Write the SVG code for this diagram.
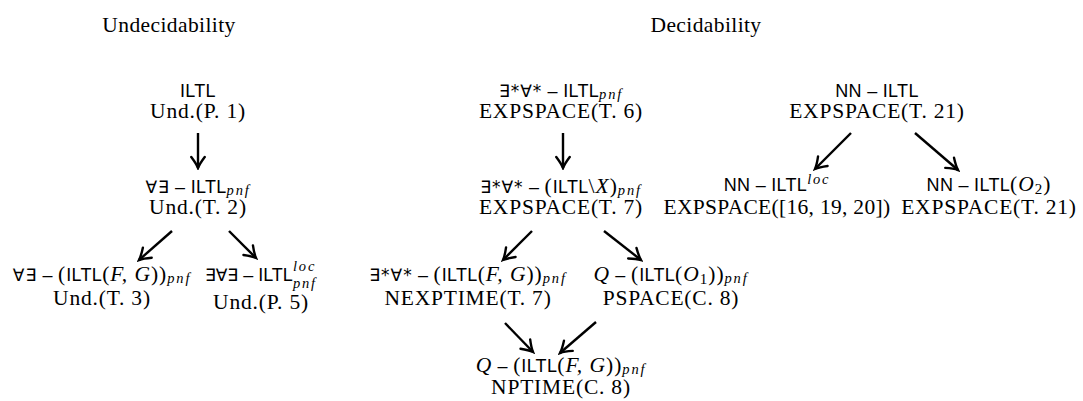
<svg xmlns="http://www.w3.org/2000/svg" width="1083" height="401" viewBox="0 0 1083 401">
<defs>
<style>
text{fill:#000}
.t{font-family:"Liberation Serif",serif;font-size:21.5px;letter-spacing:0.8px}
.ti{font-family:"Liberation Serif",serif;font-size:21.5px;letter-spacing:0.4px}
.s{font-family:"Liberation Sans","DejaVu Sans",sans-serif;font-size:18px;letter-spacing:0.3px}
.q{font-family:"DejaVu Sans",sans-serif;font-size:17px;letter-spacing:1px}
.r{font-family:"Liberation Serif",serif;font-size:21.5px;font-style:normal;letter-spacing:1px}
.i{font-family:"Liberation Serif",serif;font-size:21.5px;font-style:italic;letter-spacing:1px}
.sub{font-family:"Liberation Serif",serif;font-size:14.5px;font-style:italic;letter-spacing:1.8px}
.arr{stroke:#000;stroke-width:2.4;fill:none;marker-end:url(#ah)}
</style>
<marker id="ah" viewBox="-6 -4 7 8" refX="0" refY="0" markerWidth="7" markerHeight="8" orient="auto" markerUnits="strokeWidth">
<path d="M-4.6,-2.8 Q-1.8,-0.7 0,0 Q-1.8,0.7 -4.6,2.8" fill="none" stroke="#000" stroke-width="1" stroke-linecap="round"/>
</marker>
</defs>
<rect width="1083" height="401" fill="#fff"/>
<text class="ti" x="169" y="32" text-anchor="middle">Undecidability</text>
<text class="ti" x="706" y="32" text-anchor="middle">Decidability</text>

<g id="n1">
<text class="s" x="198" y="97" text-anchor="middle">ILTL</text>
<text class="t" x="198" y="118" text-anchor="middle">Und.(P. 1)</text>
</g>
<g id="n2">
<text x="198" y="193" text-anchor="middle"><tspan class="q">∀∃</tspan><tspan class="s"> – ILTL</tspan><tspan class="sub" dy="2">pnf</tspan></text>
<text class="t" x="198" y="214" text-anchor="middle">Und.(T. 2)</text>
</g>
<g id="n3">
<text x="102" y="281" text-anchor="middle"><tspan class="q">∀∃</tspan><tspan class="s"> – </tspan><tspan class="r">(</tspan><tspan class="s">ILTL</tspan><tspan class="r">(</tspan><tspan class="i">F, G</tspan><tspan class="r">))</tspan><tspan class="sub" dy="2">pnf</tspan></text>
<text class="t" x="102" y="305" text-anchor="middle">Und.(T. 3)</text>
</g>
<g id="n4">
<text x="205" y="281"><tspan class="q" style="letter-spacing:0">∃∀∃</tspan><tspan class="s" style="letter-spacing:0"> – ILTL</tspan></text>
<text class="sub" x="293" y="271">loc</text>
<text class="sub" x="293" y="288">pnf</text>
<text class="t" x="261" y="309" text-anchor="middle">Und.(P. 5)</text>
</g>
<g id="n5">
<text x="561" y="97" text-anchor="middle"><tspan class="q">∃*∀*</tspan><tspan class="s"> – ILTL</tspan><tspan class="sub" dy="2">pnf</tspan></text>
<text class="t" x="561" y="118" text-anchor="middle">EXPSPACE(T. 6)</text>
</g>
<g id="n6">
<text x="561" y="193" text-anchor="middle"><tspan class="q">∃*∀*</tspan><tspan class="s"> – </tspan><tspan class="r">(</tspan><tspan class="s">ILTL</tspan><tspan class="r">\</tspan><tspan class="i">X</tspan><tspan class="r">)</tspan><tspan class="sub" dy="2">pnf</tspan></text>
<text class="t" x="561" y="214" text-anchor="middle">EXPSPACE(T. 7)</text>
</g>
<g id="n7">
<text x="468" y="281" text-anchor="middle"><tspan class="q">∃*∀*</tspan><tspan class="s"> – </tspan><tspan class="r">(</tspan><tspan class="s">ILTL</tspan><tspan class="r">(</tspan><tspan class="i">F, G</tspan><tspan class="r">))</tspan><tspan class="sub" dy="2">pnf</tspan></text>
<text class="t" x="468" y="305" text-anchor="middle">NEXPTIME(T. 7)</text>
</g>
<g id="n8">
<text x="671" y="281" text-anchor="middle"><tspan class="i">Q</tspan><tspan class="s"> – </tspan><tspan class="r">(</tspan><tspan class="s">ILTL</tspan><tspan class="r">(</tspan><tspan class="i">O</tspan><tspan class="r" style="font-size:15px" dy="3">1</tspan><tspan class="r" dy="-3">))</tspan><tspan class="sub" dy="2">pnf</tspan></text>
<text class="t" x="671" y="305" text-anchor="middle">PSPACE(C. 8)</text>
</g>
<g id="n9">
<text x="561" y="372" text-anchor="middle"><tspan class="i">Q</tspan><tspan class="s"> – </tspan><tspan class="r">(</tspan><tspan class="s">ILTL</tspan><tspan class="r">(</tspan><tspan class="i">F, G</tspan><tspan class="r">))</tspan><tspan class="sub" dy="2">pnf</tspan></text>
<text class="t" x="561" y="394" text-anchor="middle">NPTIME(C. 8)</text>
</g>
<g id="n10">
<text class="s" x="877" y="97" text-anchor="middle">NN – ILTL</text>
<text class="t" x="877" y="118" text-anchor="middle">EXPSPACE(T. 21)</text>
</g>
<g id="n11">
<text x="777" y="191" text-anchor="middle"><tspan class="s">NN – ILTL</tspan><tspan class="sub" dy="-7">loc</tspan></text>
<text class="t" x="777" y="214" text-anchor="middle" style="letter-spacing:0.3px">EXPSPACE([16, 19, 20])</text>
</g>
<g id="n12">
<text x="989" y="191" text-anchor="middle"><tspan class="s">NN – ILTL</tspan><tspan class="r">(</tspan><tspan class="i">O</tspan><tspan class="r" style="font-size:15px" dy="3">2</tspan><tspan class="r" dy="-3">)</tspan></text>
<text class="t" x="989" y="214" text-anchor="middle">EXPSPACE(T. 21)</text>
</g>

<g id="connectors">
<line class="arr" x1="198" y1="133" x2="198" y2="168"/>
<line class="arr" x1="172" y1="231" x2="139" y2="260"/>
<line class="arr" x1="229" y1="231" x2="256" y2="258"/>
<line class="arr" x1="563" y1="133" x2="563" y2="168"/>
<line class="arr" x1="532" y1="231" x2="503" y2="260"/>
<line class="arr" x1="604" y1="231" x2="641" y2="260"/>
<line class="arr" x1="505" y1="323" x2="533" y2="352"/>
<line class="arr" x1="596" y1="322" x2="560" y2="353"/>
<line class="arr" x1="851" y1="133" x2="815" y2="169"/>
<line class="arr" x1="915" y1="133" x2="958" y2="170"/>
</g>
</svg>
